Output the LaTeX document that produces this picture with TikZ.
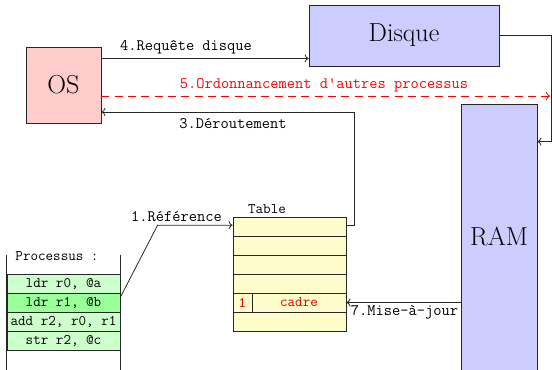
\documentclass[tikz,border=0pt]{standalone}
\usetikzlibrary{arrows.meta}
\begin{document}
\begin{tikzpicture}[x=0.75pt,y=-0.75pt,line width=0.6pt,
  lbl/.style={font=\fontsize{12}{14}\selectfont\ttfamily,inner sep=0pt},
  cell/.style={font=\fontsize{11}{13}\selectfont\ttfamily,draw=black!85,inner sep=0pt,minimum height=14.25pt},
  big/.style={draw=black!85,font=\fontsize{19.5}{22}\selectfont,inner sep=0pt},
  conn/.style={-{To[length=3pt,width=6pt]},draw=black!85},
  redtxt/.style={text=red!85!black}]
\useasboundingbox (0,0) rectangle (552,369);
% main boxes
\node[big,fill=red!20,minimum width=56.25pt,minimum height=57pt] (os) at (63.5,85) {OS};
\node[big,fill=blue!20,minimum width=142.5pt,minimum height=45.75pt] (dsk) at (404,35.5) {Disque};
\node[big,fill=blue!20,minimum width=57pt,minimum height=199.5pt] (ram) at (499,237) {RAM};
% table
\foreach \i/\y in {1/226.5,2/245.5,3/264.5,4/283.5,6/321.5}
  \node[cell,fill=yellow!20,minimum width=84.75pt] (t\i) at (289.5,\y) {};
\node[cell,fill=yellow!20,minimum width=14.25pt,redtxt] (t5a) at (242.5,302.5) {1};
\node[cell,fill=yellow!20,minimum width=70.5pt,redtxt] (t5b) at (299,302.5) {cadre};
\node[lbl,font=\fontsize{11}{13}\selectfont\ttfamily] (ttl) at (267,209) {Table};
% process
\node[cell,fill=green!20,minimum width=84.75pt] (p1) at (63.5,283.5) {ldr r0, @a};
\node[cell,fill=green!40,minimum width=84.75pt] (p2) at (63.5,302.5) {ldr r1, @b};
\node[cell,fill=green!20,minimum width=84.75pt] (p3) at (63.5,321.5) {add r2, r0, r1};
\node[cell,fill=green!20,minimum width=84.75pt] (p4) at (63.5,340.5) {str r2, @c};
\node[lbl,font=\fontsize{11}{13}\selectfont\ttfamily] (ptl) at (57,256) {Processus :};
\draw[draw=black!85] ([yshift=14.25pt]p1.north west) -- ([yshift=-15pt]p4.south west);
\draw[draw=black!85] ([yshift=14.25pt]p1.north east) -- ([yshift=-15pt]p4.south east);
% connectors
\coordinate (a4) at ([yshift=6pt]dsk.south west);
\draw[conn] (os.east |- a4) -- (a4);
\node[lbl] (l4) at (186,47) {4.Requête disque};
\coordinate (e5) at (550,96);
\draw[conn,draw=red,dashed,dash pattern=on 6pt off 4pt] (os.east |- e5) -- (e5);
\node[lbl,text=red] (l5) at (324,85) {5.Ordonnancement d'autres processus};
\draw[conn] ([yshift=1pt]t1.east) -- ++(8,0) |- ([yshift=-20.25pt]os.east);
\node[lbl] (l3) at (233,124) {3.Déroutement};
\draw[conn] (dsk.east) -- ++(52,0) |- ([yshift=-28.5pt]ram.north east);
\draw[conn] ([yshift=4pt]p2.east) -- ([xshift=-56.25pt,yshift=1pt]t1.west) -- ([yshift=1pt]t1.west);
\node[lbl] (l1) at (176.5,217) {1.Référence};
\draw[conn] (ram.west |- t5b.east) -- (t5b.east);
\node[lbl] (l7) at (404.5,312) {7.Mise-à-jour};
\end{tikzpicture}
\end{document}
